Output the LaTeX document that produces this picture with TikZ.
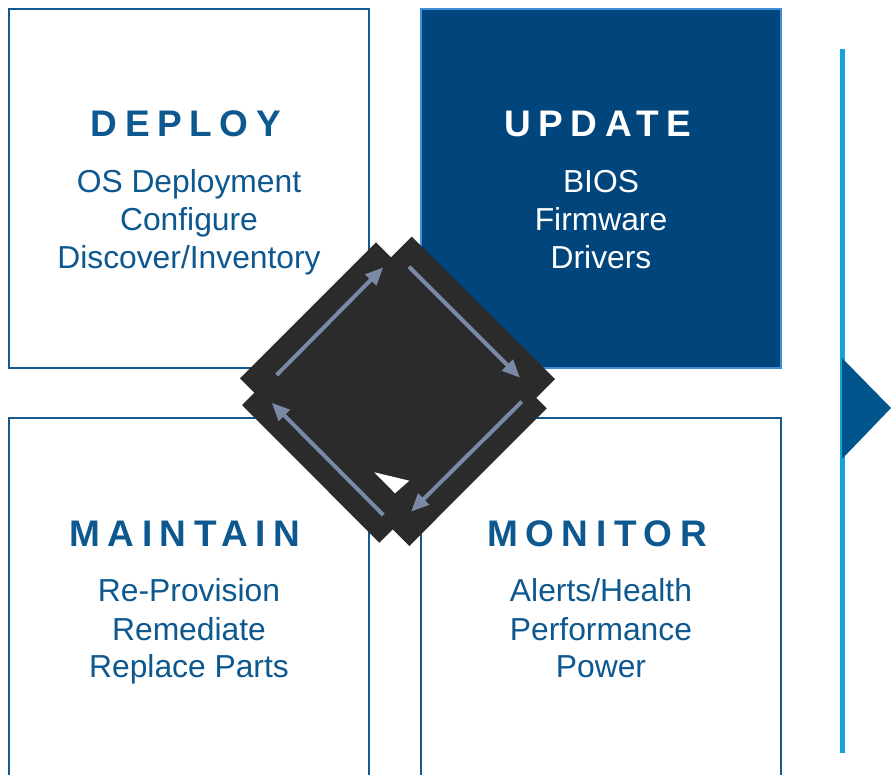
\documentclass[tikz,border=0pt]{standalone}
\usepackage{fontspec}
\setmainfont{Liberation Sans}
\usetikzlibrary{arrows.meta}
\definecolor{txtblue}{HTML}{0E5890}
\definecolor{boxline}{HTML}{15598F}
\definecolor{updfill}{HTML}{00457C}
\definecolor{updline}{HTML}{3F8FD6}
\definecolor{dia}{HTML}{2B2B2B}
\definecolor{arr}{HTML}{7A8AA6}
\definecolor{vline}{HTML}{14A3D8}
\definecolor{tri}{HTML}{00558C}
\newfontfamily\titlefont[LetterSpace=20.5]{Liberation Sans Bold}
\tikzset{
  quad/.style={draw=boxline, line width=2.8pt, fill=white},
  updquad/.style={draw=updline, line width=2.8pt, fill=updfill},
  ttl/.style={anchor=base, inner sep=0pt, text=txtblue, font=\titlefont\fontsize{37}{40}\selectfont},
  body/.style={anchor=base, inner sep=0pt, text=txtblue, font=\fontsize{31.8}{36}\selectfont},
  cyc/.style={draw=arr, line width=4pt, -{Triangle[length=18pt,width=15pt]}},
}
\begin{document}
\begin{tikzpicture}[x=1pt,y=-1pt]
\useasboundingbox (0,0) rectangle (891,775);
\clip (0,0) rectangle (891,775);
\fill[white] (0,0) rectangle (891,775);
% boxes
\draw[quad] (9,9) rectangle (369,368);
\draw[updquad] (421,9) rectangle (781,368);
\draw[quad] (9,418) rectangle (369,800);
\draw[quad] (421,418) rectangle (781,800);
% titles and bodies
\node[ttl] (tdep) at (186,136.7) {DEPLOY};
\node[body] (d1) at (189,192.7) {OS Deployment};
\node[body] (d2) at (189,231) {Configure};
\node[body] (d3) at (189,268.7) {Discover/Inventory};
\node[ttl, text=white] (tupd) at (598,136.7) {UPDATE};
\node[body, text=white] (u1) at (601,192.7) {BIOS};
\node[body, text=white] (u2) at (601,231) {Firmware};
\node[body, text=white] (u3) at (601,268.7) {Drivers};
\node[ttl] (tmai) at (185,546) {MAINTAIN};
\node[body] (m1) at (189,601.7) {Re-Provision};
\node[body] (m2) at (189,640) {Remediate};
\node[body] (m3) at (189,677.7) {Replace Parts};
\node[ttl] (tmon) at (597,546) {MONITOR};
\node[body] (n1) at (601,601.7) {Alerts/Health};
\node[body] (n2) at (601,640) {Performance};
\node[body] (n3) at (601,677.7) {Power};
% central diamond
\fill[dia] (240,378.3) -- (376,242.3) -- (391.05,257.35) -- (411.7,236.7) -- (555,379)
  -- (536.2,397.8) -- (546.7,408.3) -- (409.3,546) -- (392.65,529.35) -- (379.3,542.7)
  -- (242,405) -- (254.35,392.65) -- cycle;
\fill[white] (374.3,472.3) -- (409.3,480.7) -- (395,493.3) -- cycle;
% cycle arrows
\coordinate (a1s) at (276.7,375);   \coordinate (a1e) at (383.3,267.3);
\coordinate (a2s) at (409,266.7);   \coordinate (a2e) at (520,377.7);
\coordinate (a3s) at (521.7,401.7); \coordinate (a3e) at (411,511.7);
\coordinate (a4s) at (383.3,515);   \coordinate (a4e) at (271.7,402.7);
\draw[cyc] (a1s) -- (a1e);
\draw[cyc] (a2s) -- (a2e);
\draw[cyc] (a3s) -- (a3e);
\draw[cyc] (a4s) -- (a4e);
% right timeline
\coordinate (vt) at (842,49);
\coordinate (vb) at (842,753);
\draw[vline, line width=5pt] (vt) -- (vb);
\fill[tri] (842,358) -- (891,408) -- (842,459) -- cycle;
\end{tikzpicture}
\end{document}
